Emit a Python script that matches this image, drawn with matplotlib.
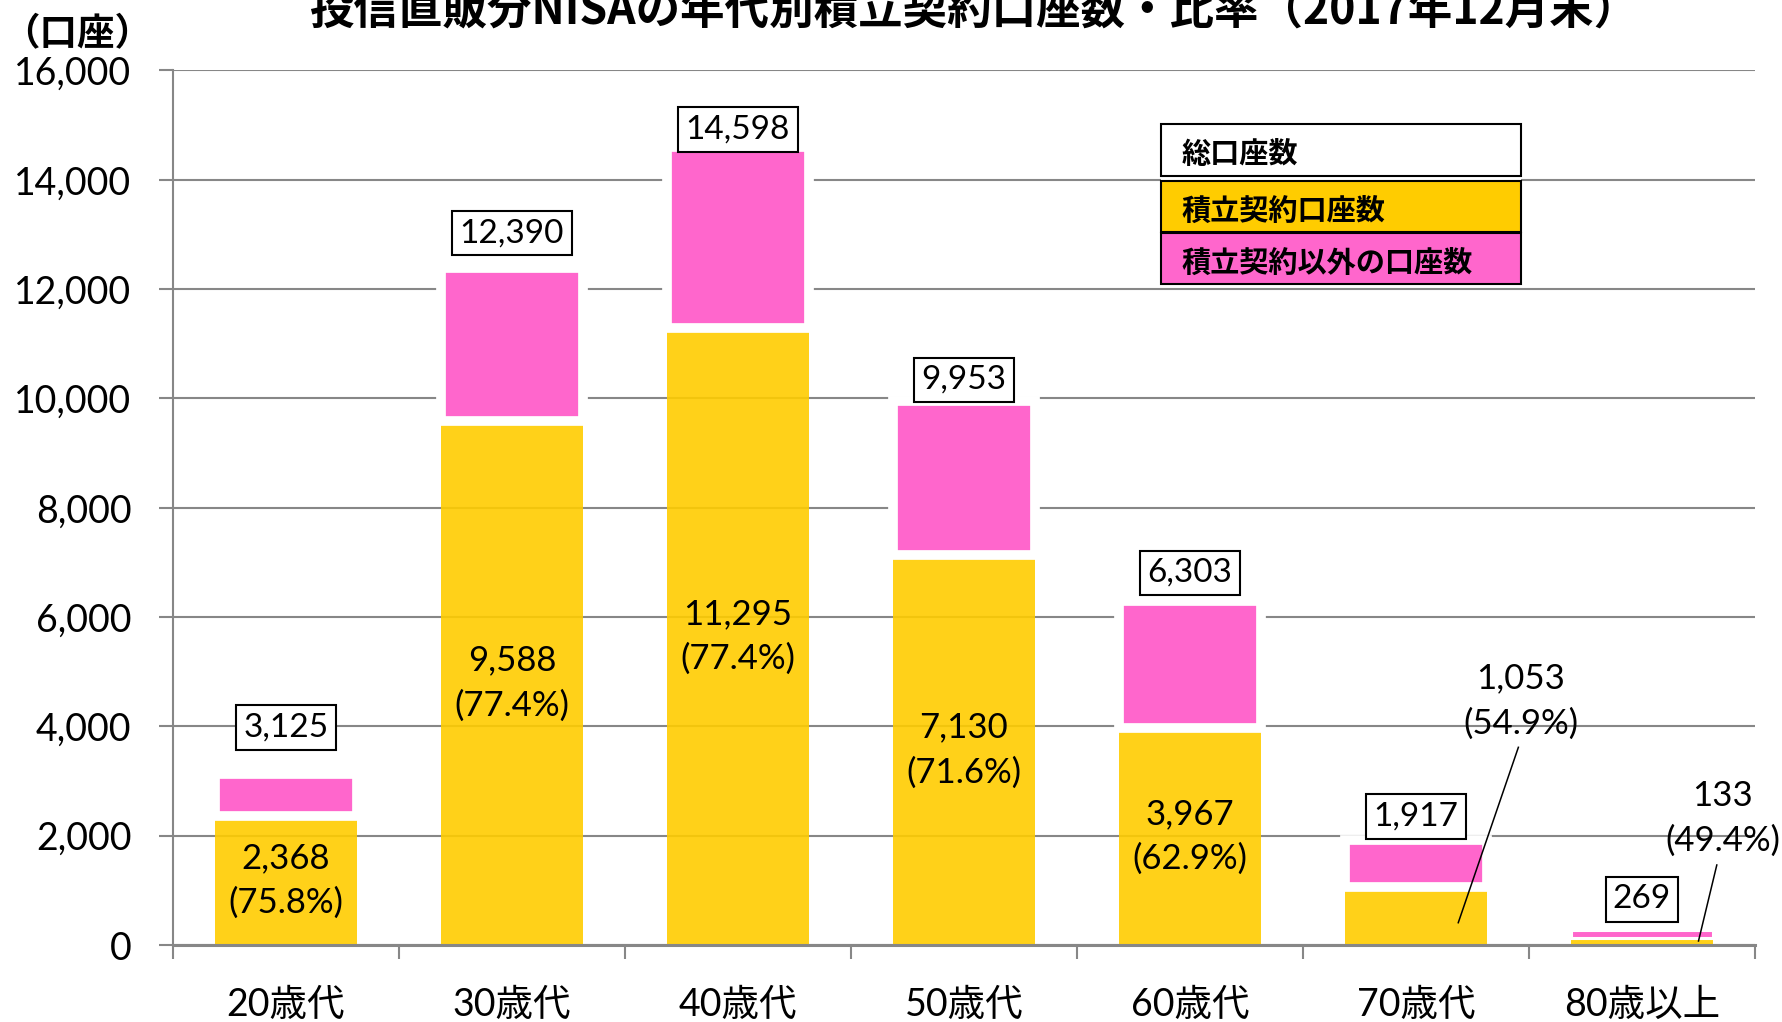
import matplotlib.pyplot as plt
from matplotlib.patches import Rectangle
import numpy as np

categories = ['20歳代', '30歳代', '40歳代', '50歳代', '60歳代', '70歳代', '80歳以上']
total_accounts = [3125, 12390, 14598, 9953, 6303, 1917, 269]
tsumitate_accounts = [2368, 9588, 11295, 7130, 3967, 1053, 133]
tsumitate_ratio = [75.8, 77.4, 77.4, 71.6, 62.9, 54.9, 49.4]
y_ticks = [0, 2000, 4000, 6000, 8000, 10000, 12000, 14000, 16000]
legend_labels = ['総口座数', '積立契約口座数', '積立契約以外の口座数']
title = '投信直販分NISAの年代別積立契約口座数・比率（2017年12月末）'
unit_label = '（口座）'

# label placement (data coords), moved by hand like in the source chart
total_label_y = [3975, 13026, 14918, 10340, 6806, 2353, 834]
outside_labels = {5: (5.463, 4464), 6: (6.357, 2312)}
leaders = {5: ((5.453, 3617), (5.187, 408)), 6: ((6.331, 1464), (6.25, 73))}

YELLOW = '#FFCC00'
PINK = '#FF66CC'
GRID = '#878787'

plt.rcParams['font.family'] = ['Lato', 'Noto Sans CJK JP']

W, H = 1783, 1022
fig = plt.figure(figsize=(W / 100, H / 100), dpi=100)
ax = fig.add_axes([173 / W, (H - 945) / H, 1582 / W, 874.5 / H])

x = np.arange(len(categories))
other = np.array(total_accounts) - np.array(tsumitate_accounts)

# thinner white edge on the last bar, otherwise the tiny segment disappears
edge_w = [7, 7, 7, 7, 7, 7, 2.2]
ax.bar(x, tsumitate_accounts, width=0.627, color=YELLOW, alpha=0.9, zorder=2)
ax.bar(x, other, bottom=tsumitate_accounts, width=0.627, color=PINK,
       edgecolor='white', linewidth=edge_w, zorder=3)

ax.set_xlim(-0.5, 6.5)
ax.set_ylim(0, 16000)
ax.set_yticks(y_ticks)
ax.set_yticklabels([f'{v:,}' for v in y_ticks], fontsize=27)
ax.yaxis.grid(True, color=GRID, linewidth=1.5, zorder=0)
ax.set_axisbelow(True)
ax.tick_params(axis='y', length=10, width=1.5, color=GRID, pad=20)

ax.set_xticks(np.arange(-0.5, 7, 1))
ax.set_xticklabels([])
ax.tick_params(axis='x', which='major', length=10, width=1.5, color=GRID)
ax.set_xticks(x, minor=True)
ax.set_xticklabels(categories, minor=True, fontsize=27)
ax.tick_params(axis='x', which='minor', length=0, pad=30)

for s in ['top', 'right']:
    ax.spines[s].set_visible(False)
ax.spines['left'].set_color(GRID)
ax.spines['left'].set_linewidth(1.5)
ax.spines['bottom'].set_color(GRID)
ax.spines['bottom'].set_linewidth(2.2)
ax.spines['bottom'].set_zorder(4)

for i, tot in enumerate(total_accounts):
    ax.text(i, total_label_y[i], f'{tot:,}', ha='center', va='center', fontsize=24,
            zorder=6, bbox=dict(boxstyle='square,pad=0.22', facecolor='white',
                                edgecolor='black', linewidth=1.5))
    lx, ly = outside_labels.get(i, (i, tsumitate_accounts[i] / 2))
    ax.text(lx, ly, f'{tsumitate_accounts[i]:,}\n({tsumitate_ratio[i]:.1f}%)',
            ha='center', va='center', fontsize=25, linespacing=1.48, zorder=6)

for (x0, y0), (x1, y1) in leaders.values():
    ax.plot([x0, x1], [y0, y1], color='black', linewidth=1.1, zorder=5)

# legend drawn as stacked boxes
leg_x, leg_w = 0.6243, 0.2278
ax.add_patch(Rectangle((leg_x, 0.7555), leg_w, 0.9385 - 0.7555, transform=ax.transAxes,
                       facecolor='white', edgecolor='none', zorder=6))
rows = [(0.8797, 0.9385, 'white'), (0.8157, 0.8736, YELLOW), (0.7555, 0.8138, PINK)]
for (b, t, c), lab in zip(rows, legend_labels):
    ax.add_patch(Rectangle((leg_x, b), leg_w, t - b, transform=ax.transAxes,
                           facecolor=c, edgecolor='black', linewidth=1.5, zorder=7))
    ax.text(0.6376, (b + t) / 2 - 0.005, lab, transform=ax.transAxes, ha='left',
            va='center', fontsize=21, fontweight='bold', family=['Noto Sans CJK JP'],
            zorder=8)

fig.text(974 / W, 1 - 11 / H, title, ha='center', va='center', fontsize=32,
         fontweight='bold', family=['Noto Sans CJK JP'])
fig.text(2 / W, 1 - 34 / H, unit_label, ha='left', va='center', fontsize=27,
         fontweight='bold', family=['Noto Sans CJK JP'])

fig.savefig('out.png', dpi=100)
